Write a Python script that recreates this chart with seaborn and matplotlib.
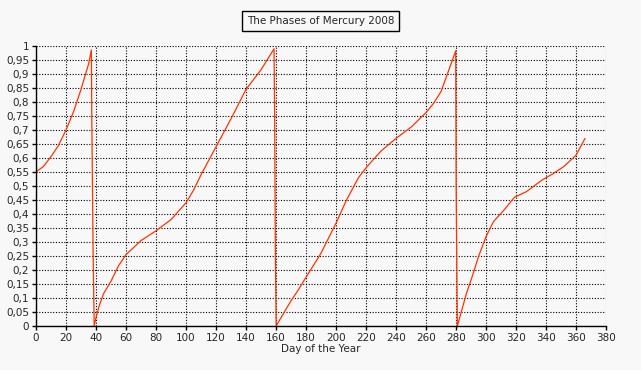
import numpy as np
import pandas as pd
import matplotlib
matplotlib.use("Agg")
import matplotlib.pyplot as plt
from matplotlib.ticker import FuncFormatter, MultipleLocator
import seaborn as sns

# day of year / illuminated fraction
days = [0, 5, 10, 15, 20, 25, 30, 35, 36.9, 37.2, 38.1, 38.8,
        40, 42, 45, 50, 55, 60, 65, 70, 80, 90, 100, 105, 110, 115, 120, 125,
        130, 140, 150, 158.7, 159.1, 159.6, 160.1,
        165, 170, 175, 180, 190, 200, 207, 215, 220, 230, 240, 250, 260, 265,
        270, 276, 279.8, 280.1, 280.9,
        284, 287, 291, 295, 300, 305, 312, 319, 327, 337, 345, 352, 360, 366]
phase = [0.55, 0.57, 0.605, 0.645, 0.70, 0.765, 0.845, 0.935, 0.986, 0.74, 0.25, 0.0,
         0.03, 0.07, 0.115, 0.16, 0.215, 0.255, 0.28, 0.305, 0.34, 0.38, 0.44, 0.485, 0.54, 0.59, 0.64, 0.69,
         0.74, 0.845, 0.915, 0.99, 0.75, 0.25, 0.0,
         0.045, 0.09, 0.13, 0.174, 0.26, 0.367, 0.45, 0.53, 0.565, 0.625, 0.67, 0.71, 0.762, 0.795,
         0.837, 0.926, 0.983, 0.50, 0.0,
         0.06, 0.117, 0.18, 0.248, 0.319, 0.373, 0.414, 0.46, 0.48, 0.52, 0.545, 0.57, 0.61, 0.67]

df = pd.DataFrame({"Day": days, "Phase": phase})

sns.set_style("white")
plt.rcParams["font.family"] = ["DejaVu Sans"]
bg = "#f8f8f8"

fig = plt.figure(figsize=(6.41, 3.70), dpi=100, facecolor=bg)
ax = fig.add_axes([36 / 641, 1 - 326 / 370, 570 / 641, 280 / 370])
ax.set_facecolor(bg)

sns.lineplot(data=df, x="Day", y="Phase", sort=False, estimator=None,
             color="#ff3300", linewidth=0.9, ax=ax)

ax.set_xlim(0, 380)
ax.set_ylim(0, 1)
ax.xaxis.set_major_locator(MultipleLocator(20))
ax.yaxis.set_major_locator(MultipleLocator(0.05))
ax.yaxis.set_major_formatter(FuncFormatter(lambda v, p: f"{v:.2f}".rstrip("0").rstrip(".").replace(".", ",")))
ax.grid(True, color="black", linestyle=(0, (1, 1.5)), linewidth=0.8)
ax.set_axisbelow(True)

for s in ["top", "right"]:
    ax.spines[s].set_visible(False)
for s in ["left", "bottom"]:
    ax.spines[s].set_color("black")
    ax.spines[s].set_linewidth(1)
ax.tick_params(axis="both", direction="out", length=3, width=1, color="black",
               labelsize=7.5, pad=2, left=True, bottom=True)

ax.set_xlabel("Day of the Year", fontsize=7.5, labelpad=1)
ax.set_ylabel("")

fig.text(0.5, 1 - 21 / 370, "The Phases of Mercury 2008", ha="center", va="center",
         fontsize=7.5,
         bbox=dict(boxstyle="square,pad=0.45", facecolor=bg, edgecolor="black", linewidth=1))

fig.savefig("out.png", dpi=100, facecolor=bg)
